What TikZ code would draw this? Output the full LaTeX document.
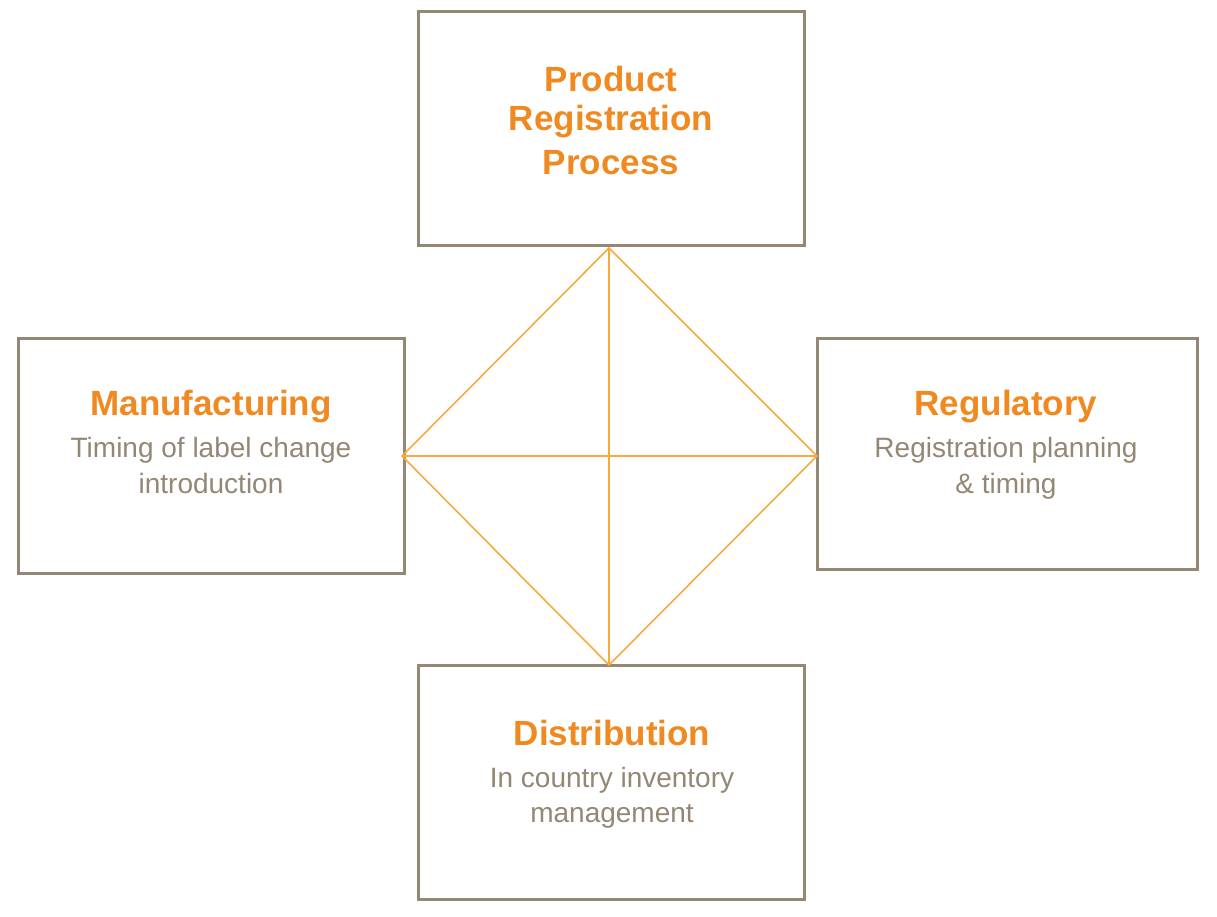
\documentclass[tikz,border=0pt]{standalone}
\usepackage{fontspec}
\setmainfont{Liberation Sans}
\definecolor{boxbrown}{HTML}{948774}
\definecolor{titleorange}{HTML}{F0891F}
\definecolor{lineorange}{HTML}{F9AA3A}
\begin{document}
\begin{tikzpicture}[x=1pt,y=-1pt,
  box/.style={draw=boxbrown, line width=3pt, fill=white, rectangle, inner sep=0pt},
  title/.style={text=titleorange, font=\fontsize{35}{40}\selectfont\bfseries, inner sep=0pt, anchor=base},
  sub/.style={text=boxbrown, font=\fontsize{28}{34}\selectfont, inner sep=0pt, anchor=base},
  link/.style={draw=lineorange, line width=1.6pt}]
\useasboundingbox (0,0) rectangle (1217,917);
\fill[white] (0,0) rectangle (1217,917);
% boxes
\node[box, minimum width=386pt, minimum height=234pt] (top) at (611,129) {};
\node[box, minimum width=386pt, minimum height=235pt] (left) at (211,455.5) {};
\node[box, minimum width=380pt, minimum height=231pt] (right) at (1007,453.5) {};
\node[box, minimum width=386pt, minimum height=234pt] (bottom) at (611,782) {};
% diamond vertices
\coordinate (dt) at (609,248);
\coordinate (dl) at (402,456);
\coordinate (dr) at (817,456);
\coordinate (db) at (609,665);
\draw[link] (dt) -- (dl) -- (db) -- (dr) -- cycle;
\draw[link] (dt) -- (db);
\draw[link] (dl) -- (dr);
% texts
\node[title] (t1) at (611,92) {Product};
\node[title] (t2) at (611,131) {Registration};
\node[title] (t3) at (611,175) {Process};
\node[title] (mt) at (211,415) {Manufacturing};
\node[sub] (m1) at (211,457) {Timing of label change};
\node[sub] (m2) at (211,493) {introduction};
\node[title] (rt) at (1006,415) {Regulatory};
\node[sub] (r1) at (1006,457) {Registration planning};
\node[sub] (r2) at (1006,493) {\& timing};
\node[title] (dtt) at (612,745) {Distribution};
\node[sub] (d1) at (612,787) {In country inventory};
\node[sub] (d2) at (612,822) {management};
\end{tikzpicture}
\end{document}
